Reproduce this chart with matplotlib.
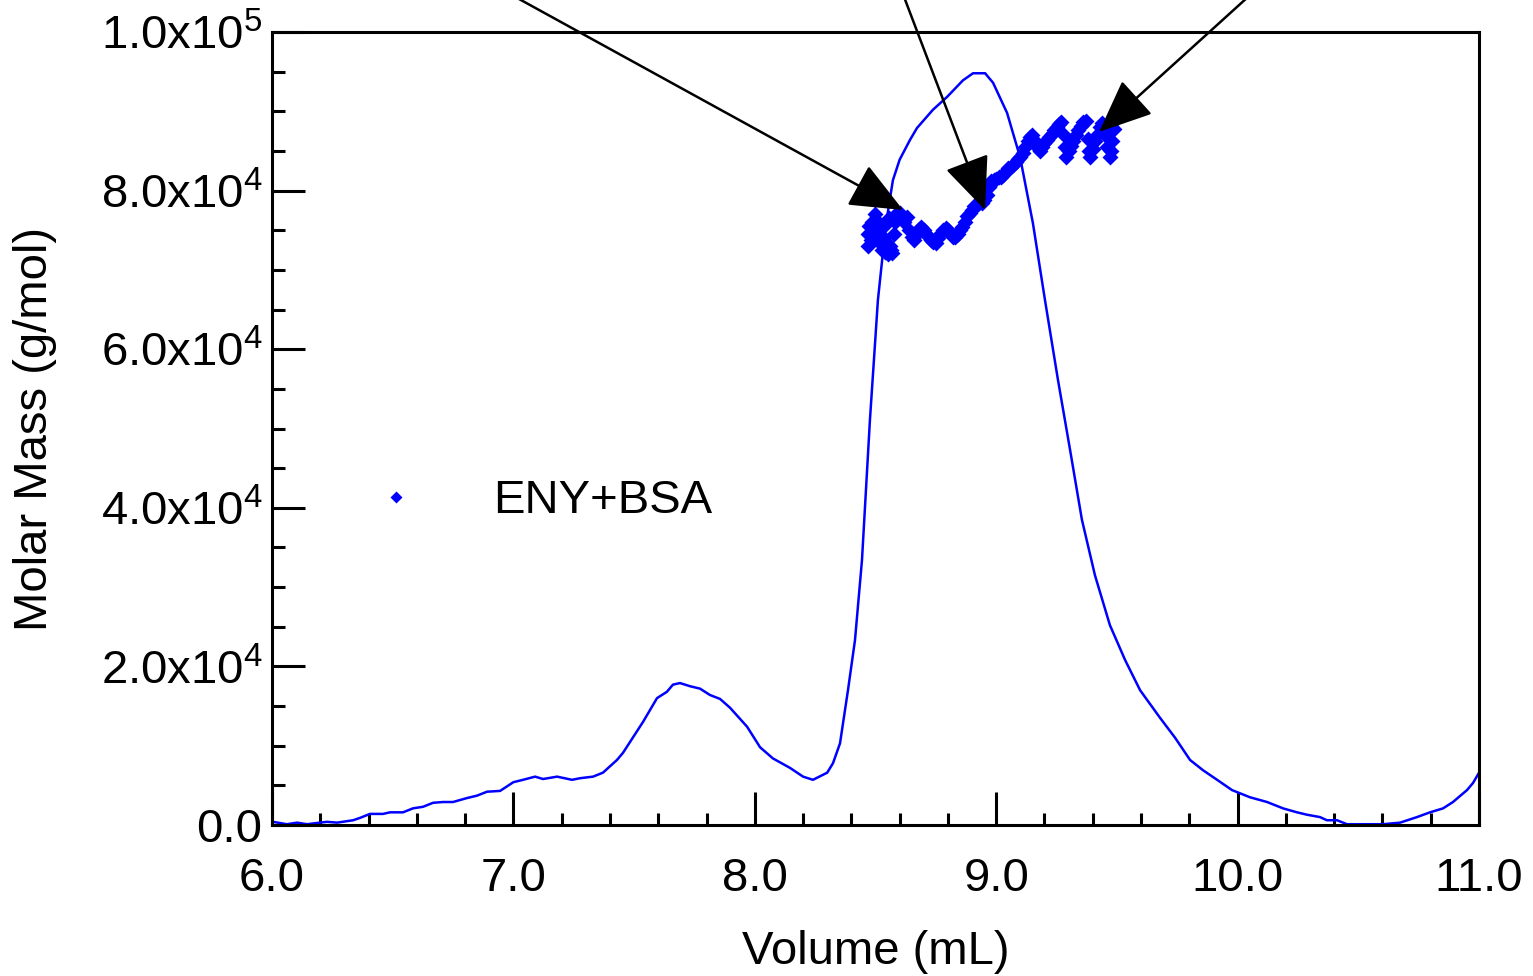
"""
ENY+BSA のモル質量プロット（SEC-MALS 風）
"""
import numpy as np
import matplotlib
matplotlib.use('Agg')
import matplotlib.pyplot as plt
from matplotlib.ticker import FixedLocator, MultipleLocator

plt.rcParams['font.family'] = ['Liberation Sans', 'DejaVu Sans']
plt.rcParams['mathtext.default'] = 'regular'

# 検出器トレース（RI 信号をモル質量軸にスケール）  x: mL, y: x1e4 g/mol
trace_vol = [6.004, 6.062, 6.104, 6.145, 6.199, 6.228, 6.27, 6.336, 6.365, 6.406,
             6.46, 6.489, 6.543, 6.584, 6.626, 6.667, 6.708, 6.75, 6.808, 6.849,
             6.891, 6.945, 7.00, 7.04, 7.09, 7.123, 7.181, 7.243, 7.276, 7.33,
             7.371, 7.429, 7.454, 7.537, 7.595, 7.636, 7.661, 7.69, 7.732, 7.773,
             7.814, 7.856, 7.897, 7.968, 8.022, 8.075, 8.146, 8.20, 8.241, 8.30,
             8.324, 8.353, 8.386, 8.415, 8.444, 8.477, 8.51, 8.543, 8.572, 8.60,
             8.643, 8.672, 8.738, 8.796, 8.862, 8.904, 8.954, 8.987, 9.045, 9.099,
             9.152, 9.202, 9.256, 9.306, 9.355, 9.409, 9.471, 9.534, 9.596, 9.679,
             9.741, 9.803, 9.857, 9.915, 9.977, 10.051, 10.122, 10.188, 10.246, 10.287,
             10.341, 10.37, 10.412, 10.453, 10.536, 10.602, 10.673, 10.743, 10.797, 10.851,
             10.892, 10.95, 10.975, 11.0]
trace_sig = [0.04, 0.01, 0.03, 0.01, 0.03, 0.04, 0.03, 0.06, 0.09, 0.14,
             0.14, 0.16, 0.16, 0.21, 0.23, 0.28, 0.29, 0.29, 0.34, 0.37,
             0.42, 0.43, 0.54, 0.57, 0.61, 0.58, 0.61, 0.57, 0.59, 0.61,
             0.66, 0.82, 0.91, 1.30, 1.60, 1.68, 1.77, 1.79, 1.75, 1.72,
             1.64, 1.59, 1.48, 1.24, 0.98, 0.84, 0.72, 0.61, 0.57, 0.66,
             0.78, 1.03, 1.70, 2.33, 3.34, 5.11, 6.62, 7.57, 8.13, 8.39,
             8.64, 8.79, 9.02, 9.18, 9.39, 9.48, 9.48, 9.36, 8.98, 8.42,
             7.59, 6.62, 5.61, 4.73, 3.85, 3.15, 2.52, 2.08, 1.70, 1.35,
             1.10, 0.82, 0.69, 0.57, 0.44, 0.35, 0.29, 0.21, 0.16, 0.13,
             0.10, 0.06, 0.06, 0.01, 0.01, 0.01, 0.03, 0.10, 0.16, 0.21,
             0.29, 0.44, 0.53, 0.66]

# モル質量（ENY+BSA）  x: mL, y: x1e4 g/mol
mm_vol = [8.47, 8.47, 8.475, 8.48, 8.485, 8.49, 8.495, 8.50, 8.50, 8.505,
          8.51, 8.515, 8.52, 8.525, 8.53, 8.535, 8.54, 8.545, 8.55, 8.555,
          8.56, 8.565, 8.57, 8.575, 8.58, 8.59, 8.60, 8.61, 8.62, 8.63,
          8.64, 8.65, 8.66, 8.67, 8.68, 8.69, 8.70, 8.71, 8.72, 8.73,
          8.74, 8.75, 8.76, 8.77, 8.78, 8.79, 8.80, 8.81, 8.82, 8.83,
          8.84, 8.85, 8.86, 8.87, 8.88, 8.89, 8.90, 8.91, 8.92, 8.93,
          8.94, 8.95, 8.96, 8.97, 8.98, 8.99, 9.00, 9.01, 9.02, 9.03,
          9.04, 9.05, 9.06, 9.07, 9.08, 9.09, 9.10, 9.11, 9.12, 9.13,
          9.14, 9.15, 9.16, 9.17, 9.18, 9.19, 9.20, 9.21, 9.22, 9.23,
          9.24, 9.25, 9.26, 9.27, 9.28, 9.285, 9.29, 9.30, 9.31, 9.32,
          9.33, 9.34, 9.35, 9.36, 9.37, 9.38, 9.385, 9.39, 9.40, 9.41,
          9.42, 9.43, 9.44, 9.45, 9.46, 9.47, 9.475, 9.48, 9.49, 9.50,
          9.51, 9.52, 9.525]
mm_mass = [7.30, 7.45, 7.55, 7.38, 7.60, 8.05, 7.90, 7.95, 7.70, 7.50,
           7.60, 7.35, 7.45, 7.25, 7.40, 7.55, 7.22, 7.35, 7.20, 7.65,
           7.30, 7.25, 7.21, 7.45, 7.60, 7.72, 7.72, 7.65, 7.60, 7.67,
           7.50, 7.41, 7.38, 7.45, 7.52, 7.54, 7.50, 7.45, 7.41, 7.38,
           7.35, 7.34, 7.40, 7.46, 7.50, 7.53, 7.50, 7.46, 7.42, 7.41,
           7.45, 7.50, 7.54, 7.60, 7.68, 7.72, 7.76, 7.80, 7.83, 7.84,
           7.85, 7.88, 7.95, 8.05, 8.12, 8.13, 8.15, 8.17, 8.17, 8.20,
           8.25, 8.28, 8.30, 8.32, 8.36, 8.40, 8.42, 8.48, 8.55, 8.62,
           8.68, 8.70, 8.62, 8.55, 8.50, 8.55, 8.60, 8.64, 8.68, 8.72,
           8.76, 8.80, 8.84, 8.86, 8.70, 8.55, 8.42, 8.50, 8.56, 8.62,
           8.70, 8.76, 8.82, 8.86, 8.88, 8.65, 8.50, 8.42, 8.52, 8.62,
           8.72, 8.80, 8.85, 8.70, 8.55, 8.42, 8.50, 8.62, 8.78, 8.92,
           9.00, 9.08, 9.10]

y_ticks = [0, 2e4, 4e4, 6e4, 8e4, 1e5]
y_labels = ['0.0', '2.0x10$^{4}$', '4.0x10$^{4}$', '6.0x10$^{4}$',
            '8.0x10$^{4}$', '1.0x10$^{5}$']
x_ticks = [6.0, 7.0, 8.0, 9.0, 10.0, 11.0]
x_labels = ['6.0', '7.0', '8.0', '9.0', '10.0', '11.0']

# 矢印（先端, 根元）
arrows = [((8.614, 7.755e4), (6.878, 10.66e4)),
          ((8.954, 7.755e4), (8.591, 10.66e4)),
          ((9.426, 8.74e4), (10.122, 10.66e4))]

FS = 34
fig = plt.figure(figsize=(15.33, 9.76), dpi=100)
ax = fig.add_axes([0.1774, 0.1547, 0.7874, 0.8125])

ax.plot(trace_vol, np.array(trace_sig) * 1e4, color='#0000ff', lw=1.8, zorder=2)
ax.plot(mm_vol, np.array(mm_mass) * 1e4, linestyle='none', marker='D', ms=8.5,
        mec='none', color='#0000ff', label='ENY+BSA', zorder=3)

for tip, tail in arrows:
    ax.annotate('', xy=tip, xytext=tail, annotation_clip=False,
                arrowprops=dict(arrowstyle='-|>,head_length=1.4,head_width=0.6',
                                mutation_scale=24, color='black', lw=1.8,
                                shrinkA=0, shrinkB=0), zorder=5)

ax.set_xlim(6.0, 11.0)
ax.set_ylim(0, 1e5)
ax.xaxis.set_major_locator(FixedLocator(x_ticks))
ax.set_xticklabels(x_labels)
ax.xaxis.set_minor_locator(MultipleLocator(0.2))
ax.yaxis.set_major_locator(FixedLocator(y_ticks))
ax.set_yticklabels(y_labels)
ax.yaxis.set_minor_locator(MultipleLocator(5e3))

ax.tick_params(which='both', direction='in', top=False, right=False, width=2.2,
               labelsize=FS)
ax.tick_params(which='major', length=24)
ax.tick_params(which='minor', length=9)
ax.tick_params(axis='x', which='major', pad=23)
ax.tick_params(axis='y', which='major', pad=7)
for s in ax.spines.values():
    s.set_linewidth(2.2)

ax.set_xlabel('Volume (mL)', fontsize=FS)
ax.set_ylabel('Molar Mass (g/mol)', fontsize=FS)
ax.xaxis.set_label_coords(0.5, -0.132)
ax.yaxis.set_label_coords(-0.178, 0.5)

ax.legend(loc='center left', bbox_to_anchor=(0.0638, 0.408), frameon=False,
          fontsize=FS, numpoints=1, handlelength=2.0, handletextpad=1.05,
          borderpad=0, borderaxespad=0, markerscale=0.7)

plt.savefig('out.png', dpi=100)
